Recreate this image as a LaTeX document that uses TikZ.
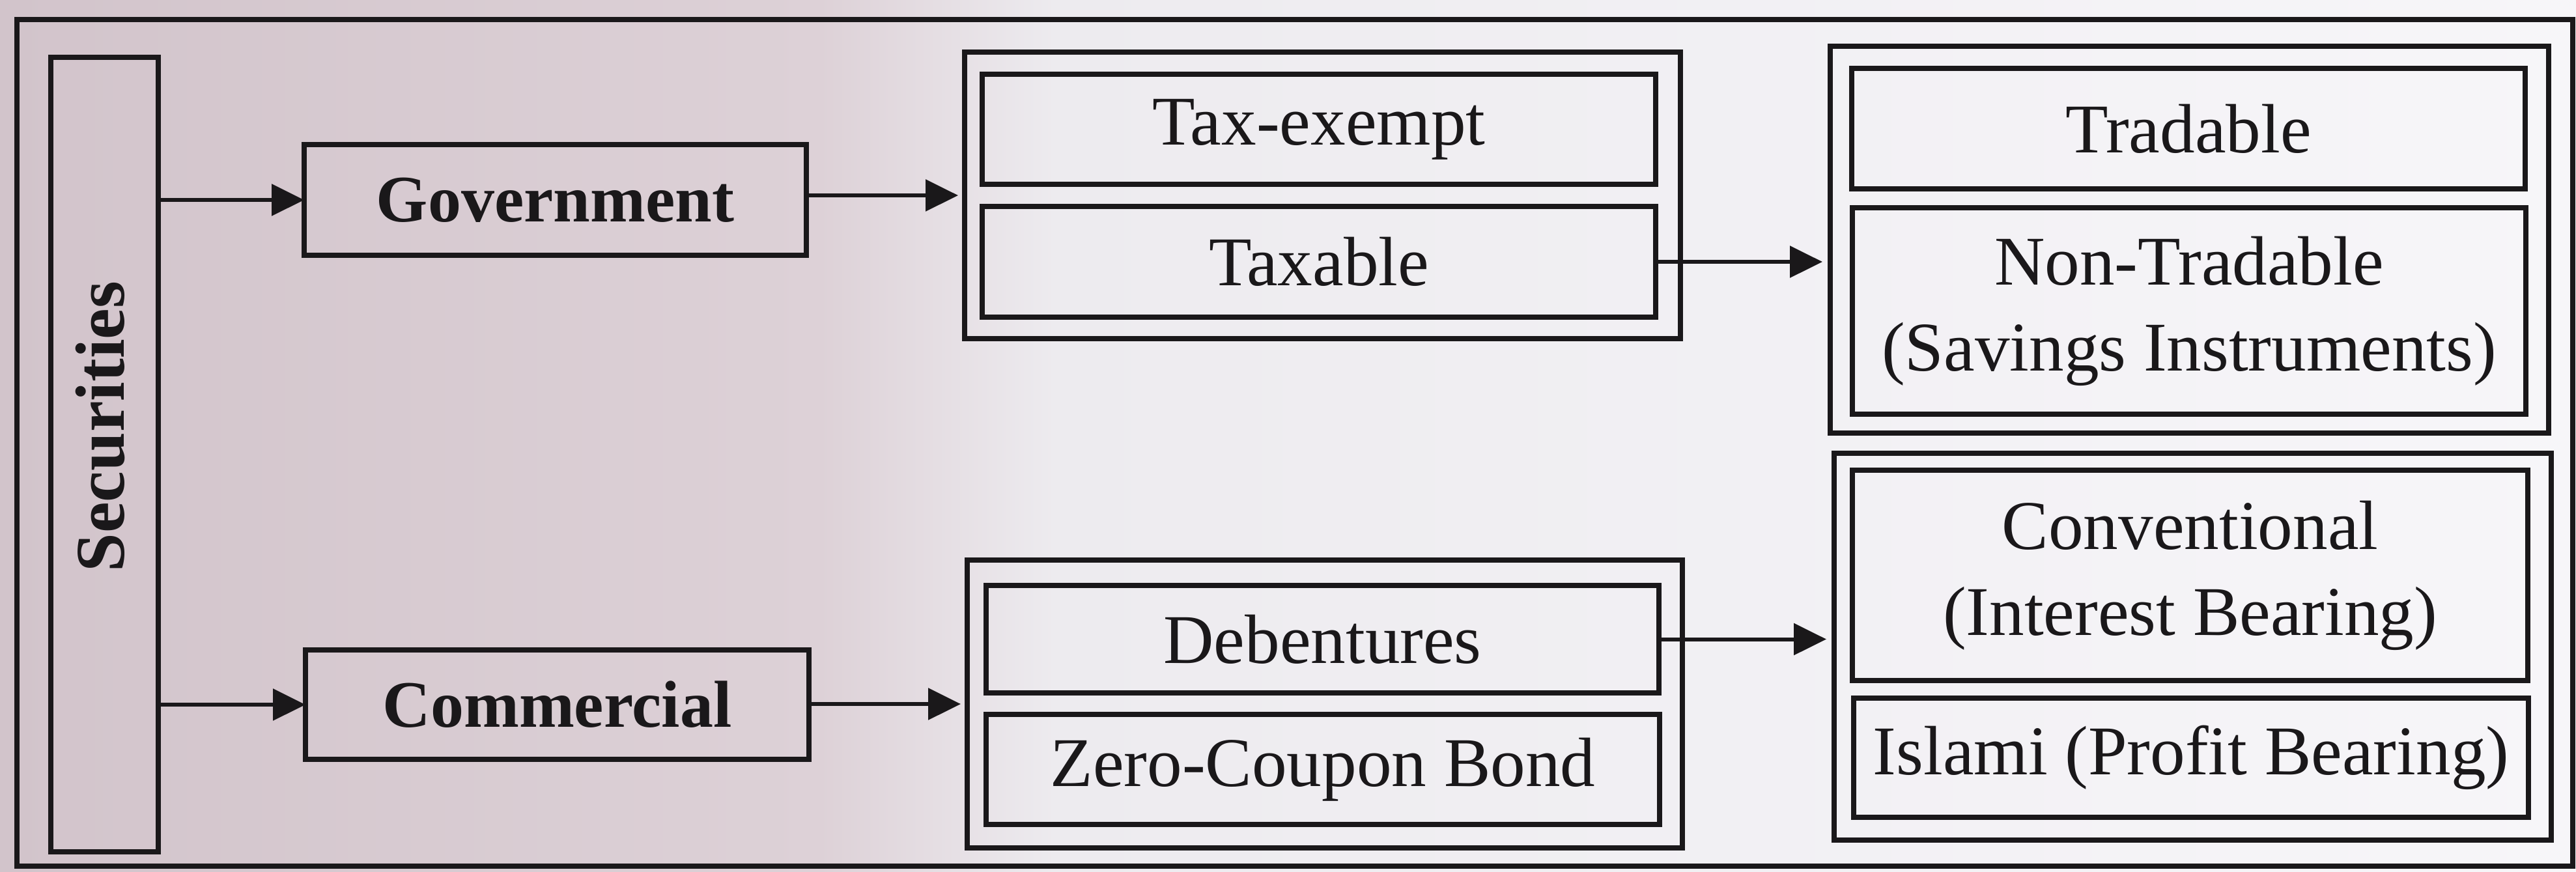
\documentclass[tikz,border=0pt]{standalone}
\usepackage{fontspec}
\setmainfont{Liberation Serif}
\usetikzlibrary{arrows.meta}
\definecolor{ink}{RGB}{26,24,26}
\definecolor{pinkA}{RGB}{210,196,203}
\definecolor{pinkB}{RGB}{221,209,215}
\definecolor{whiteA}{RGB}{237,235,239}
\definecolor{whiteB}{RGB}{247,246,249}
\begin{document}
\begin{tikzpicture}[
  box/.style={draw=ink, line width=2.3pt, inner sep=0pt, outer sep=0pt, align=center, text=ink, font=\fontsize{30.5}{37.5}\selectfont},
  bbox/.style={box, font=\fontsize{29}{37}\selectfont\bfseries},
  conn/.style={draw=ink, line width=1.7pt, -{Triangle[length=0.5cm,width=0.48cm]}},
]
\useasboundingbox (0,0) rectangle (39.55,-13.38);
% paper background
\shade[left color=pinkA, right color=pinkB] (0,0) rectangle (12.6,-13.38);
\shade[left color=pinkB, right color=whiteA] (12.58,0) rectangle (16.2,-13.38);
\shade[left color=whiteA, right color=whiteB] (16.18,0) rectangle (39.55,-13.38);
% outer frame
\draw[draw=ink, line width=2.3pt] (0.26,-0.30) rectangle (39.50,-13.30);
% securities
\node[box, minimum width=1.65cm, minimum height=12.20cm] (sec) at (1.605,-6.98) {};
\node[text=ink, font=\fontsize{30.5}{37}\selectfont\bfseries, rotate=90, inner sep=0pt] (seclabel) at (1.54,-6.55) {Securities};
% second level
\node[bbox, minimum width=7.71cm, minimum height=1.70cm] (gov) at (8.525,-3.07) {Government};
\node[bbox, minimum width=7.73cm, minimum height=1.68cm] (com) at (8.555,-10.82) {Commercial};
% tax group
\node[box, minimum width=10.99cm, minimum height=4.40cm] (taxgrp) at (20.305,-3.00) {};
\node[box, minimum width=10.34cm, minimum height=1.69cm] (taxex) at (20.25,-1.985) {Tax-exempt};
\node[box, minimum width=10.34cm, minimum height=1.70cm] (taxable) at (20.25,-4.02) {Taxable};
% tradable group
\node[box, minimum width=11.03cm, minimum height=5.94cm] (trdgrp) at (33.615,-3.68) {};
\node[box, minimum width=10.34cm, minimum height=1.85cm] (trad) at (33.60,-1.975) {Tradable};
\node[box, minimum width=10.34cm, minimum height=3.17cm] (nontrad) at (33.61,-4.775) {Non-Tradable\\(Savings Instruments)};
% debenture group
\node[box, minimum width=10.98cm, minimum height=4.42cm] (debgrp) at (20.34,-10.81) {};
\node[box, minimum width=10.33cm, minimum height=1.65cm] (deb) at (20.305,-9.815) {Debentures};
\node[box, minimum width=10.34cm, minimum height=1.69cm] (zero) at (20.31,-11.815) {Zero-Coupon Bond};
% conventional group
\node[box, minimum width=11.01cm, minimum height=5.94cm] (convgrp) at (33.665,-9.93) {};
\node[box, minimum width=10.37cm, minimum height=3.23cm] (conv) at (33.625,-8.835) {Conventional\\(Interest Bearing)};
\node[box, minimum width=10.36cm, minimum height=1.83cm] (islami) at (33.64,-11.635) {Islami (Profit Bearing)};
% connectors
\draw[conn] (sec.east |- gov.west) -- (gov.west);
\draw[conn] (sec.east |- com.west) -- (com.west);
\draw[conn, shorten >=0.1cm] (gov.east |- taxgrp.west) -- (taxgrp.west);
\draw[conn, shorten >=0.1cm] (com.east |- debgrp.west) -- (debgrp.west);
\draw[conn, shorten >=0.12cm] (taxable.east) -- (taxable.east -| trdgrp.west);
\draw[conn, shorten >=0.12cm] (deb.east) -- (deb.east -| convgrp.west);
\end{tikzpicture}
\end{document}
